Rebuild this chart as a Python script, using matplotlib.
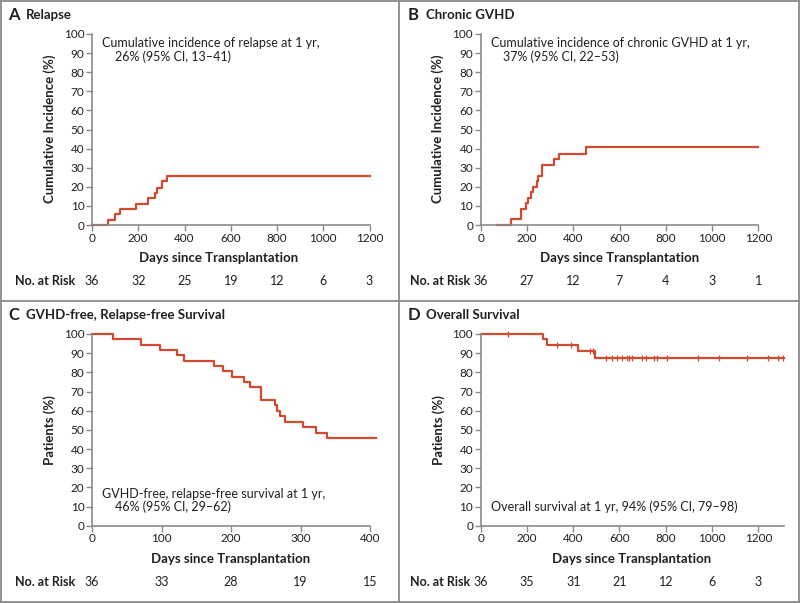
import numpy as np
import matplotlib
matplotlib.use('Agg')
import matplotlib.pyplot as plt
from matplotlib import transforms
from matplotlib.lines import Line2D

plt.rcParams['font.family'] = ['Lato', 'DejaVu Sans']

# A: relapse cumulative incidence
relapse_days = [0, 68, 99, 121, 189, 243, 272, 282, 304, 323, 1200]
relapse_pct = [0, 2.8, 5.6, 8.3, 11.1, 13.9, 16.7, 19.4, 22.8, 25.7, 25.7]
relapse_ticks = [0, 200, 400, 600, 800, 1000, 1200]
relapse_risk = [36, 32, 25, 19, 12, 6, 3]

# B: chronic GVHD cumulative incidence
cgvhd_days = [69, 131, 173, 196, 203, 218, 228, 242, 248, 264, 318, 340, 454, 1200]
cgvhd_pct = [0, 2.9, 8.6, 11.4, 14.3, 17.1, 20.0, 22.9, 25.7, 31.4, 34.3, 37.1, 40.8, 40.8]
cgvhd_ticks = [0, 200, 400, 600, 800, 1000, 1200]
cgvhd_risk = [36, 27, 12, 7, 4, 3, 1]

# C: GVHD-free, relapse-free survival
grfs_days = [0, 30, 71, 98, 122, 132, 176, 188, 202, 219, 228, 243, 263, 266, 270, 277, 304, 322, 338, 408]
grfs_pct = [100, 97.2, 94.4, 91.7, 88.9, 86.1, 83.3, 80.6, 77.8, 75.0, 72.2, 65.8, 62.8, 60.0, 57.0, 54.3, 51.4, 48.5, 45.5, 45.5]
grfs_ticks = [0, 100, 200, 300, 400]
grfs_risk = [36, 33, 28, 19, 15]

# D: overall survival
os_days = [0, 268, 285, 420, 494, 1312]
os_pct = [100, 97.2, 94.3, 91.3, 87.7, 87.7]
os_censor = [119, 328, 389, 472, 487, 542, 567, 588, 609, 631, 641, 653, 699, 713,
             749, 761, 804, 938, 1029, 1153, 1243, 1284, 1306]
os_ticks = [0, 200, 400, 600, 800, 1000, 1200]
os_risk = [36, 35, 31, 21, 12, 6, 3]

W, H = 800, 603
RED = '#d1492e'
GRAY = '#8a8a8a'
INK = '#231f20'


def fx(x):
    return x / W


def fy(y):
    return 1 - y / H


fig = plt.figure(figsize=(8, 6.03), dpi=100)

# frame and dividers
for xs, ys in [([1, 799], [1, 1]), ([1, 799], [602, 602]), ([1, 1], [1, 602]),
               ([799, 799], [1, 602]), ([399, 399], [1, 602]), ([1, 799], [301, 301])]:
    fig.add_artist(Line2D([fx(v) for v in xs], [fy(v) for v in ys], color=GRAY, lw=1.3))


def panel(left, right_px, xmax, top, bottom, ticks, xlim):
    ax = fig.add_axes([fx(left), fy(bottom), fx(right_px - left), (bottom - top) / H])
    ax.set_xlim(*xlim)
    ax.set_ylim(0, 100)
    for s in ['top', 'right']:
        ax.spines[s].set_visible(False)
    for s in ['left', 'bottom']:
        ax.spines[s].set_color(GRAY)
        ax.spines[s].set_linewidth(1.2)
    ax.spines['bottom'].set_bounds(0, xmax)
    ax.set_xticks(ticks)
    ax.set_yticks(range(0, 101, 10))
    ax.tick_params(colors=GRAY, labelcolor=INK, labelsize=8.5, length=4, width=1.0, pad=1.5)
    ax.patch.set_alpha(0)
    return ax


def decorate(ax, letter, title, tx, ty, ylabel, ylx, yly, xl_x, xl_y, risk_x, risk_y, ticks, risk):
    fig.text(fx(tx), fy(ty), letter, fontsize=12, fontweight='bold', color=INK, va='center')
    fig.text(fx(tx + 18), fy(ty), title, fontsize=9.5, fontweight='bold', color=INK, va='center')
    fig.text(fx(ylx), fy(yly), ylabel, rotation=90, fontsize=9.5, fontweight='bold',
             color=INK, ha='center', va='center')
    fig.text(fx(xl_x), fy(xl_y), 'Days since Transplantation', fontsize=9.5, fontweight='bold',
             color=INK, ha='center', va='center')
    fig.text(fx(risk_x), fy(risk_y), 'No. at Risk', fontsize=9, fontweight='bold',
             color=INK, ha='left', va='center')
    tr = transforms.blended_transform_factory(ax.transData, fig.transFigure)
    for t, n in zip(ticks, risk):
        ax.text(t, fy(risk_y), str(n), transform=tr, fontsize=9, color=INK,
                ha='center', va='center')


def note(x1, y1, s1, x2=None, y2=None, s2=None):
    fig.text(fx(x1), fy(y1), s1, fontsize=9, color=INK, va='center')
    if s2:
        fig.text(fx(x2), fy(y2), s2, fontsize=9, color=INK, va='center')


# A
axA = panel(92, 369.5, 1200, 34, 225, relapse_ticks, (0, 1200))
axA.step(relapse_days, relapse_pct, where='post', color=RED, lw=1.6, clip_on=False)
decorate(axA, 'A', 'Relapse', 8, 15, 'Cumulative Incidence (%)', 50, 129, 219, 258, 15, 281,
         relapse_ticks, relapse_risk)
note(102, 43, 'Cumulative incidence of relapse at 1 yr,', 115, 57, '26% (95% CI, 13\u201341)')

# B
axB = panel(480.7, 758.3, 1200, 34, 225, cgvhd_ticks, (0, 1200))
axB.step(cgvhd_days, cgvhd_pct, where='post', color=RED, lw=1.6, clip_on=False)
decorate(axB, 'B', 'Chronic GVHD', 408, 15, 'Cumulative Incidence (%)', 438, 129, 619.5, 258, 410, 281,
         cgvhd_ticks, cgvhd_risk)
note(490.7, 43, 'Cumulative incidence of chronic GVHD at 1 yr,', 503, 57, '37% (95% CI, 22\u201353)')

# C
axC = panel(92, 370, 400, 334, 525.7, grfs_ticks, (0, 400))
axC.step(grfs_days, grfs_pct, where='post', color=RED, lw=1.6, clip_on=False)
decorate(axC, 'C', 'GVHD-free, Relapse-free Survival', 8, 315, 'Patients (%)', 50, 430, 231, 559, 15, 582,
         grfs_ticks, grfs_risk)
note(102, 493.5, 'GVHD-free, relapse-free survival at 1 yr,', 115, 507, '46% (95% CI, 29\u201362)')

# D
axD = panel(480.7, 480.7 + 1310 * 0.23133, 1310, 334, 525.7, os_ticks, (0, 1310))
axD.step(os_days, os_pct, where='post', color=RED, lw=1.6, clip_on=False)
idx = np.searchsorted(os_days, os_censor, side='right') - 1
axD.plot(os_censor, np.array(os_pct)[idx], ls='none', marker='|', ms=5, mew=0.9, color=RED, clip_on=False)
decorate(axD, 'D', 'Overall Survival', 408, 315, 'Patients (%)', 438.5, 430, 632, 559, 410, 582,
         os_ticks, os_risk)
note(491, 507, 'Overall survival at 1 yr, 94% (95% CI, 79\u201398)')

fig.savefig('out.png', dpi=100)
